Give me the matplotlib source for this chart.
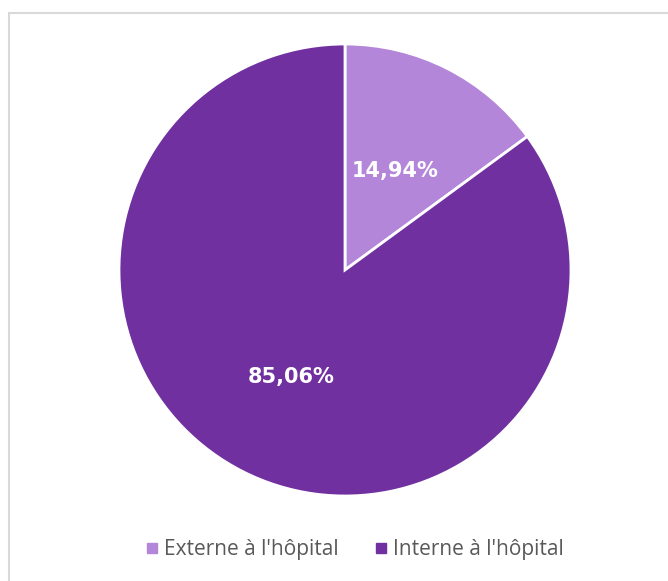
import matplotlib
matplotlib.use("Agg")
import matplotlib.pyplot as plt
import numpy as np
from matplotlib.lines import Line2D
from matplotlib.patches import Rectangle

labels = ["Externe à l'hôpital", "Interne à l'hôpital"]
values = [14.94, 85.06]
colors = ["#b486d9", "#7030a0"]
label_dist = [0.49, 0.53]

fig = plt.figure(figsize=(6.68, 5.81), dpi=100)

# light grey chart-area frame
fig.patches.append(Rectangle((9 / 668, -0.01), 1.0, 1 - 13 / 581 + 0.01,
                             transform=fig.transFigure, fill=False,
                             edgecolor="#d9d9d9", linewidth=1.5))

ax = fig.add_axes([119 / 668, 1 - 496 / 581, 452 / 668, 452 / 581])
wedges, texts = ax.pie(
    values, colors=colors, startangle=90, counterclock=False,
    wedgeprops=dict(edgecolor="white", linewidth=2),
)
for w, v, d in zip(wedges, values, label_dist):
    ang = np.deg2rad((w.theta1 + w.theta2) / 2)
    ax.text(d * np.cos(ang), d * np.sin(ang), f"{v:.2f}%".replace(".", ","),
            ha="center", va="center", color="white", fontsize=15,
            fontweight="heavy", family="DejaVu Sans")
ax.set_xlim(-1, 1)
ax.set_ylim(-1, 1)
ax.set_aspect("equal")
ax.axis("off")

handles = [Line2D([], [], marker="s", linestyle="", markersize=7,
                  markerfacecolor=c, markeredgecolor=c) for c in colors]
fig.legend(handles, labels, loc="center", bbox_to_anchor=(0.527, 1 - 550 / 581),
           ncol=2, frameon=False, handletextpad=0.0, columnspacing=1.5,
           handlelength=1.1, prop=dict(family="Open Sans", size=15),
           labelcolor="#595959")

fig.savefig("out.png", dpi=100)
